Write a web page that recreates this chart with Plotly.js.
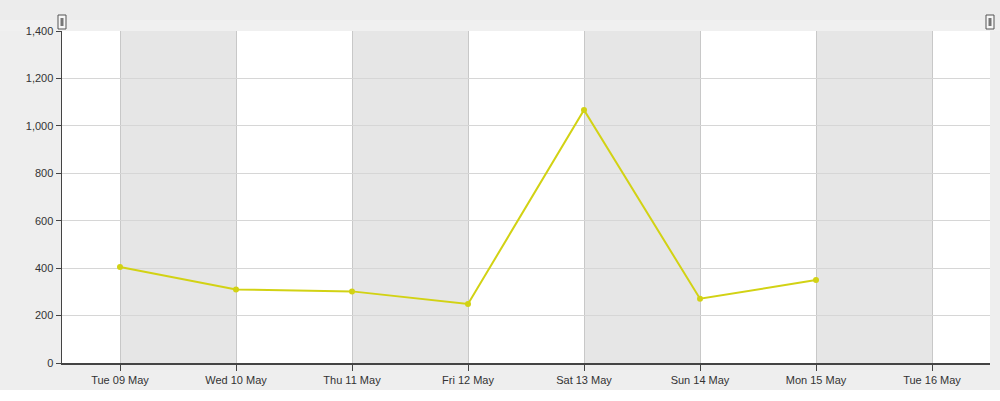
<!DOCTYPE html>
<html>
<head>
<meta charset="utf-8">
<script src="https://cdn.plot.ly/plotly-3.0.1.min.js"></script>
<style>html,body{margin:0;padding:0;background:#fff;}#chart{width:1000px;height:401px;}</style>
</head>
<body>
<div id="chart"></div>
<script>
const dates = ["2017-05-09","2017-05-10","2017-05-11","2017-05-12","2017-05-13","2017-05-14","2017-05-15"];
const values = [405, 310, 302, 249, 1067, 271, 350];
const tickDates = ["2017-05-09","2017-05-10","2017-05-11","2017-05-12","2017-05-13","2017-05-14","2017-05-15","2017-05-16"];
const tickLabels = ["Tue 09 May","Wed 10 May","Thu 11 May","Fri 12 May","Sat 13 May","Sun 14 May","Mon 15 May","Tue 16 May"];
const yTicks = [0,200,400,600,800,1000,1200,1400];
const yLabels = ["0","200","400","600","800","1,000","1,200","1,400"];
const bandStarts = ["2017-05-09","2017-05-11","2017-05-13","2017-05-15"];
const bandEnds = ["2017-05-10","2017-05-12","2017-05-14","2017-05-16"];

const H = 332; // plot height px
const W = 928; // plot width px
const shapes = [];
// page decorations
shapes.push({type:'rect', xref:'paper', yref:'paper', x0:-0.1, x1:1.1, y0:1, y1:1+31/H, fillcolor:'#ececec', line:{width:0}, layer:'below'});
shapes.push({type:'rect', xref:'paper', yref:'paper', x0:-0.1, x1:1.1, y0:1, y1:1+11/H, fillcolor:'#f0f0f0', line:{width:0}, layer:'below'});
shapes.push({type:'rect', xref:'paper', yref:'paper', x0:-0.1, x1:1.1, y0:-38/H, y1:-27/H, fillcolor:'#ffffff', line:{width:0}, layer:'below'});
bandStarts.forEach((s,i)=>{
  shapes.push({type:'rect', xref:'x', yref:'paper', x0:s, x1:bandEnds[i], y0:0, y1:1, fillcolor:'#e6e6e6', line:{width:0}, layer:'below'});
});
// handles
[0,1].forEach(px=>{
  shapes.push({type:'rect', xref:'paper', yref:'paper', x0:px-4/W, x1:px+4/W, y0:1+2/H, y1:1+16/H, fillcolor:'#f6f6f6', line:{color:'#555', width:1}, layer:'above'});
  shapes.push({type:'rect', xref:'paper', yref:'paper', x0:px-1.5/W, x1:px+1.5/W, y0:1+5/H, y1:1+13/H, fillcolor:'#777', line:{width:0}, layer:'above'});
});

const trace = {
  x: dates, y: values, type:'scatter', mode:'lines+markers',
  line:{color:'#d2d214', width:2},
  marker:{color:'#d2d214', size:6},
  hoverinfo:'x+y'
};

const layout = {
  width:1000, height:401,
  margin:{l:62, r:10, t:31, b:38},
  paper_bgcolor:'#eeeeee',
  plot_bgcolor:'#ffffff',
  showlegend:false,
  font:{family:'"Liberation Sans", Arial, sans-serif', size:11, color:'#333'},
  xaxis:{
    type:'date', range:['2017-05-08 12:00','2017-05-16 12:00'],
    tickvals:tickDates, ticktext:tickLabels,
    showgrid:true, gridcolor:'#c8c8c8', gridwidth:1,
    showline:true, linecolor:'#444', linewidth:1.5,
    ticks:'outside', ticklen:6, tickcolor:'#444',
    zeroline:false, fixedrange:true
  },
  yaxis:{
    range:[0,1400], tickvals:yTicks, ticktext:yLabels,
    showgrid:true, gridcolor:'#d6d6d6', gridwidth:1,
    showline:true, linecolor:'#444', linewidth:1.5,
    ticks:'outside', ticklen:5, tickcolor:'#444',
    zeroline:false, fixedrange:true
  },
  shapes: shapes
};
Plotly.newPlot('chart', [trace], layout, {displayModeBar:false, staticPlot:true});
</script>
</body>
</html>
